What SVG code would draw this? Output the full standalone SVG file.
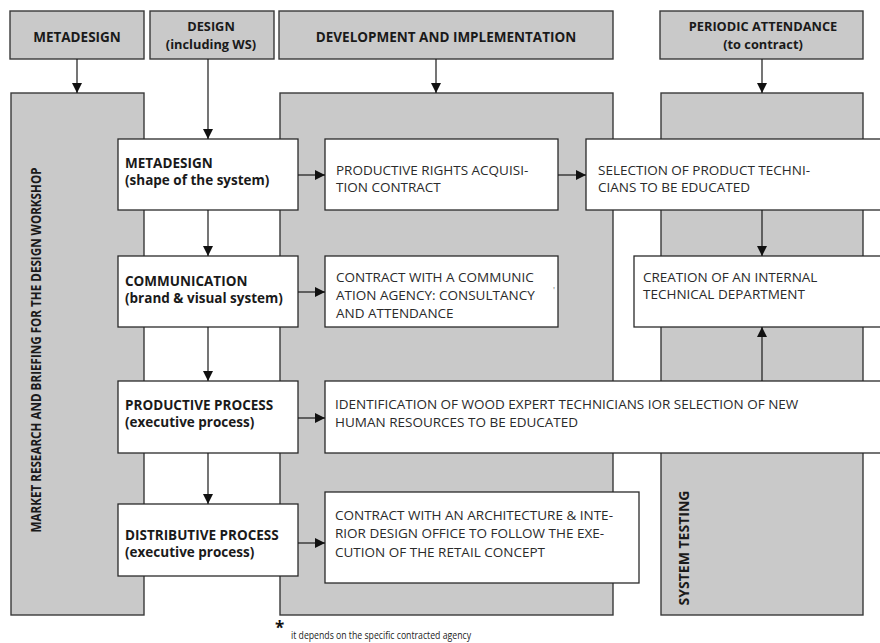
<svg xmlns="http://www.w3.org/2000/svg" width="880" height="643" viewBox="0 0 880 643">
<defs>
<marker id="ah" markerUnits="userSpaceOnUse" markerWidth="10" markerHeight="10" refX="10" refY="5" orient="auto">
<path d="M0,0 L10,5 L0,10 z" fill="#111"/>
</marker>
<style>
.hdr{fill:#c9c9c9;stroke:#3a3a3a;stroke-width:1.4}
.pnl{fill:#c9c9c9;stroke:#3a3a3a;stroke-width:1.4}
.box{fill:#fff;stroke:#2a2a2a;stroke-width:1.3}
.b{font-family:"Open Sans","Liberation Sans",sans-serif;font-weight:bold;font-size:13.5px;fill:#1a1a1a}
.h2{font-size:12.8px}
.r{font-family:"Open Sans","Liberation Sans",sans-serif;font-size:13.5px;fill:#2a2a2a}
.c{text-anchor:middle}
.cn line{stroke:#1a1a1a;stroke-width:1.2;marker-end:url(#ah)}
</style>
</defs>
<rect width="880" height="643" fill="#fff"/>

<g id="panels">
<rect id="panel-market" class="pnl" x="11" y="93" width="133" height="522"/>
<rect id="panel-dev" class="pnl" x="280" y="93" width="333" height="522"/>
<rect id="panel-testing" class="pnl" x="661" y="93" width="202" height="522"/>
<text class="b" style="font-size:14.5px" transform="translate(41,350) rotate(-90)" text-anchor="middle" textLength="365" lengthAdjust="spacingAndGlyphs">MARKET RESEARCH AND BRIEFING FOR THE DESIGN WORKSHOP</text>
<text class="b" style="font-size:14px" transform="translate(689,548) rotate(-90)" text-anchor="middle" textLength="115" lengthAdjust="spacingAndGlyphs">SYSTEM TESTING</text>
</g>

<g id="h-metadesign"><rect class="hdr" x="10" y="11" width="134" height="48"/><text class="b c" x="77" y="42">METADESIGN</text></g>
<g id="h-design"><rect class="hdr" x="150" y="11" width="124" height="48"/><text class="b c h2" x="211" y="31">DESIGN</text><text class="b c h2" x="211" y="49">(including WS)</text></g>
<g id="h-dev"><rect class="hdr" x="279" y="11" width="334" height="48"/><text class="b c" x="446" y="42">DEVELOPMENT AND IMPLEMENTATION</text></g>
<g id="h-periodic"><rect class="hdr" x="660" y="11" width="203" height="48"/><text class="b c h2" x="763" y="31">PERIODIC ATTENDANCE</text><text class="b c h2" x="763" y="49">(to contract)</text></g>

<g id="n-metadesign"><rect class="box" x="118" y="139" width="180" height="71"/><text class="b" x="125" y="168">METADESIGN</text><text class="b" x="125" y="185">(shape of the system)</text></g>
<g id="n-communication"><rect class="box" x="118" y="256" width="180" height="71"/><text class="b" x="125" y="286">COMMUNICATION</text><text class="b" x="125" y="303">(brand &amp; visual system)</text></g>
<g id="n-productive"><rect class="box" x="118" y="381" width="180" height="72"/><text class="b" x="125" y="410">PRODUCTIVE PROCESS</text><text class="b" x="125" y="427">(executive process)</text></g>
<g id="n-distributive"><rect class="box" x="118" y="504" width="180" height="72"/><text class="b" x="125" y="540">DISTRIBUTIVE PROCESS</text><text class="b" x="125" y="557">(executive process)</text></g>

<g id="n-rights"><rect class="box" x="325" y="139" width="233" height="71"/><text class="r" x="336" y="175">PRODUCTIVE RIGHTS ACQUISI-</text><text class="r" x="336" y="192">TION CONTRACT</text></g>
<g id="n-comm-contract"><rect class="box" x="325" y="256" width="233" height="71"/><text class="r" x="336" y="282">CONTRACT WITH A COMMUNIC</text><text class="r" x="336" y="300">ATION AGENCY:  CONSULTANCY</text><text class="r" x="336" y="318">AND ATTENDANCE</text><text class="r" x="553" y="294" style="font-size:9px;fill:#777">'</text></g>
<g id="n-selection"><rect class="box" x="586" y="139" width="300" height="71"/><text class="r" x="598" y="175">SELECTION OF PRODUCT TECHNI-</text><text class="r" x="598" y="192">CIANS TO BE EDUCATED</text></g>
<g id="n-creation"><rect class="box" x="634" y="256" width="252" height="71"/><text class="r" x="643" y="282">CREATION OF AN INTERNAL</text><text class="r" x="643" y="299">TECHNICAL DEPARTMENT</text></g>
<g id="n-identification"><rect class="box" x="325" y="381" width="561" height="72"/><text class="r" x="335" y="409">IDENTIFICATION OF WOOD EXPERT TECHNICIANS IOR SELECTION OF NEW</text><text class="r" x="335" y="427">HUMAN RESOURCES TO BE EDUCATED</text></g>
<g id="n-architecture"><rect class="box" x="325" y="492" width="314" height="91"/><text class="r" x="335" y="520">CONTRACT WITH AN ARCHITECTURE &amp; INTE-</text><text class="r" x="335" y="538">RIOR DESIGN OFFICE TO FOLLOW THE EXE-</text><text class="r" x="335" y="557">CUTION OF THE RETAIL CONCEPT</text></g>

<g id="connectors" class="cn">
<line x1="77" y1="59" x2="77" y2="93"/>
<line x1="208" y1="59" x2="208" y2="139"/>
<line x1="436" y1="59" x2="436" y2="93"/>
<line x1="762" y1="59" x2="762" y2="93"/>
<line x1="208" y1="210" x2="208" y2="256"/>
<line x1="208" y1="327" x2="208" y2="381"/>
<line x1="208" y1="453" x2="208" y2="504"/>
<line x1="298" y1="175" x2="325" y2="175"/>
<line x1="558" y1="175" x2="586" y2="175"/>
<line x1="298" y1="292" x2="325" y2="292"/>
<line x1="298" y1="418" x2="325" y2="418"/>
<line x1="298" y1="543" x2="325" y2="543"/>
<line x1="762" y1="210" x2="762" y2="256"/>
<line x1="762" y1="381" x2="762" y2="327"/>
</g>

<g id="footnote">
<text x="275" y="634" style="font-family:'Open Sans','Liberation Sans',sans-serif;font-weight:bold;font-size:17px;fill:#111">*</text>
<text x="291" y="639" style="font-family:'Open Sans','Liberation Sans',sans-serif;font-size:11px;fill:#222" textLength="180" lengthAdjust="spacingAndGlyphs">it depends on the specific contracted agency</text>
</g>
</svg>
